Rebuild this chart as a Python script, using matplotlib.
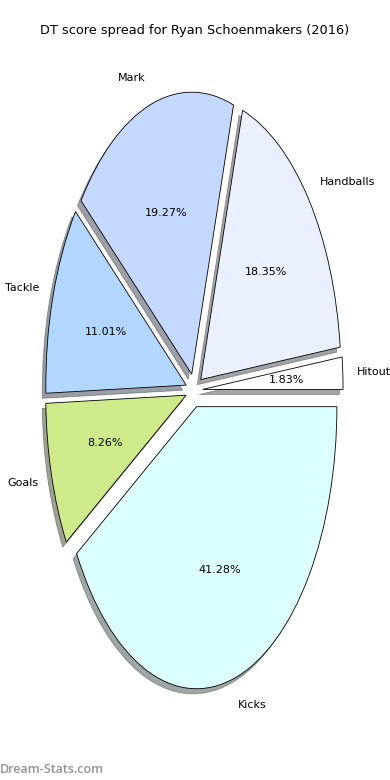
import matplotlib
matplotlib.use("Agg")
import matplotlib.pyplot as plt

# DT score spread data
categories = ["Hitout", "Handballs", "Mark", "Tackle", "Goals", "Kicks"]
scores = [2, 20, 21, 12, 9, 45]
colours = ["#ffffff", "#eaf0ff", "#c5d8ff", "#b3d6ff", "#cfea8a", "#dcffff"]
explode = [0.06] * len(categories)

fig = plt.figure(figsize=(3.9, 7.8), dpi=100)
ax = fig.add_axes([0.048, 0.0475, 0.9, 0.904])

wedges, texts, autotexts = ax.pie(
    scores,
    labels=categories,
    colors=colours,
    explode=explode,
    autopct="%1.2f%%",
    shadow={"ox": -0.018, "oy": -0.013},
    startangle=0,
    wedgeprops={"edgecolor": "black", "linewidth": 0.6},
    textprops={"fontsize": 8},
)
ax.set_aspect("auto")
ax.set_xlim(-1.25, 1.25)
ax.set_ylim(-1.25, 1.25)

fig.text(0.5, 0.961, "DT score spread for Ryan Schoenmakers (2016)",
         ha="center", va="center", fontsize=9.3)

# watermark
fig.text(0.0, 0.013, "Dream-Stats.com", ha="left", va="center",
         fontsize=9, color="#929292", family="Open Sans", fontweight="semibold")

fig.savefig("out.png", dpi=100)
